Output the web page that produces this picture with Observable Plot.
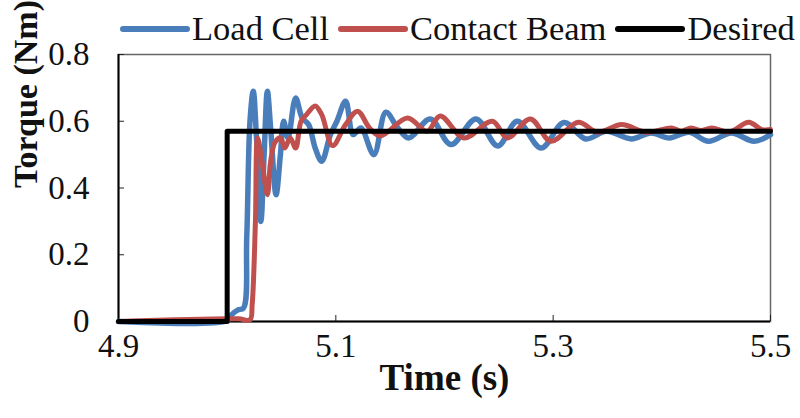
<!DOCTYPE html>
<html>
<head>
<meta charset="utf-8">
<script src="https://cdn.jsdelivr.net/npm/d3@7"></script>
<script src="https://cdn.jsdelivr.net/npm/@observablehq/plot@0.6"></script>
<style>
  html, body { margin: 0; padding: 0; background: #fff; }
  #wrap { position: relative; width: 800px; height: 418px; }
  #legend { position: absolute; left: 120px; top: 9px; display: flex; align-items: center;
            font-family: "Liberation Serif", "Times New Roman", Times, serif; font-size: 34.5px; color: #111; white-space: nowrap; }
  #legend .sw { width: 70px; height: 6px; border-radius: 3px; margin-right: 2px; }
  #legend .lb { margin-right: 9px; }
</style>
</head>
<body>
<div id="wrap"><div id="legend"></div></div>
<script>
const seriesNames = ["Load Cell", "Contact Beam", "Desired"];
const seriesColors = ["#4a7ebb", "#c0504d", "#000000"];
const xTicks = [4.9, 5.1, 5.3, 5.5];
const yTicks = [0, 0.2, 0.4, 0.6, 0.8];

// Load Cell (time s, torque Nm)
const loadT = [4.900, 5.000, 5.004, 5.010, 5.015, 5.018, 5.021, 5.024, 5.027, 5.031, 5.034, 5.037, 5.040, 5.045, 5.049, 5.052, 5.056, 5.063, 5.069, 5.075, 5.081, 5.087, 5.095, 5.101, 5.109, 5.116, 5.123, 5.135, 5.146, 5.157, 5.167, 5.187, 5.206, 5.229, 5.249, 5.267, 5.289, 5.310, 5.330, 5.349, 5.372, 5.390, 5.407, 5.425, 5.443, 5.464, 5.485, 5.500];
const loadV = [0.000, 0.003, 0.020, 0.035, 0.040, 0.250, 0.600, 0.690, 0.550, 0.300, 0.500, 0.690, 0.580, 0.380, 0.500, 0.600, 0.550, 0.670, 0.610, 0.590, 0.520, 0.480, 0.560, 0.600, 0.660, 0.560, 0.580, 0.500, 0.627, 0.580, 0.550, 0.607, 0.530, 0.607, 0.526, 0.600, 0.520, 0.596, 0.547, 0.570, 0.547, 0.565, 0.550, 0.567, 0.540, 0.565, 0.540, 0.560];

// Contact Beam
const beamT = [4.900, 5.010, 5.021, 5.023, 5.026, 5.028, 5.032, 5.037, 5.040, 5.044, 5.049, 5.053, 5.058, 5.063, 5.068, 5.073, 5.081, 5.087, 5.097, 5.109, 5.120, 5.131, 5.141, 5.166, 5.184, 5.196, 5.218, 5.244, 5.258, 5.279, 5.298, 5.323, 5.341, 5.363, 5.386, 5.409, 5.418, 5.427, 5.436, 5.446, 5.462, 5.480, 5.492, 5.500];
const beamV = [0.000, 0.008, 0.005, 0.050, 0.300, 0.550, 0.480, 0.380, 0.480, 0.537, 0.550, 0.520, 0.550, 0.520, 0.600, 0.620, 0.646, 0.620, 0.527, 0.590, 0.630, 0.580, 0.556, 0.610, 0.570, 0.616, 0.550, 0.600, 0.550, 0.607, 0.540, 0.597, 0.567, 0.590, 0.567, 0.580, 0.570, 0.580, 0.572, 0.580, 0.568, 0.597, 0.575, 0.575];

// Desired step
const desiredT = [4.9, 5.0, 5.0, 5.5];
const desiredV = [0, 0, 0.57, 0.57];

const load = loadT.map((t, i) => ({t, v: loadV[i]}));
const beam = beamT.map((t, i) => ({t, v: beamV[i]}));
const desired = desiredT.map((t, i) => ({t, v: desiredV[i]}));

const legend = document.getElementById("legend");
seriesNames.forEach((n, i) => {
  const sw = document.createElement("div"); sw.className = "sw"; sw.style.background = seriesColors[i];
  const lb = document.createElement("div"); lb.className = "lb"; lb.textContent = n;
  legend.appendChild(sw); legend.appendChild(lb);
});

const fmt = d => d === 0 ? "0" : d.toFixed(1);
const serif = "Liberation Serif, Times New Roman, serif";

const chart = Plot.plot({
  width: 800, height: 418,
  marginLeft: 118, marginRight: 30, marginTop: 54, marginBottom: 97,
  style: {fontFamily: serif, fontSize: "33px", color: "#111", background: "transparent"},
  x: {domain: [4.9, 5.5]},
  y: {domain: [0, 0.8]},
  marks: [
    Plot.frame({stroke: "#666", strokeWidth: 1.5}),
    Plot.axisX({ticks: xTicks, tickFormat: fmt, tickSize: -6, tickPadding: 18, label: null, stroke: "#222", fontFamily: serif}),
    Plot.axisY({ticks: yTicks, tickFormat: fmt, tickSize: -6, tickPadding: 35, label: null, stroke: "#222", fontFamily: serif}),
    Plot.ruleX([xTicks[0]], {stroke: "#000", strokeWidth: 2}),
    Plot.ruleY([yTicks[0]], {stroke: "#000", strokeWidth: 2}),
    Plot.line(load, {x: "t", y: "v", stroke: seriesColors[0], strokeWidth: 5.5, curve: "catmull-rom"}),
    Plot.line(beam, {x: "t", y: "v", stroke: seriesColors[1], strokeWidth: 5, curve: "catmull-rom"}),
    Plot.line(desired, {x: "t", y: "v", stroke: seriesColors[2], strokeWidth: 5}),
    Plot.text(["Time (s)"], {frameAnchor: "bottom", dy: 68, text: d => d, fontWeight: "bold", fontSize: 37, fill: "#111", fontFamily: serif}),
    Plot.text(["Torque (Nm)"], {frameAnchor: "left", dx: -92, rotate: -90, text: d => d, fontWeight: "bold", fontSize: 34, fill: "#111", fontFamily: serif})
  ]
});
document.getElementById("wrap").appendChild(chart);
</script>
</body>
</html>
